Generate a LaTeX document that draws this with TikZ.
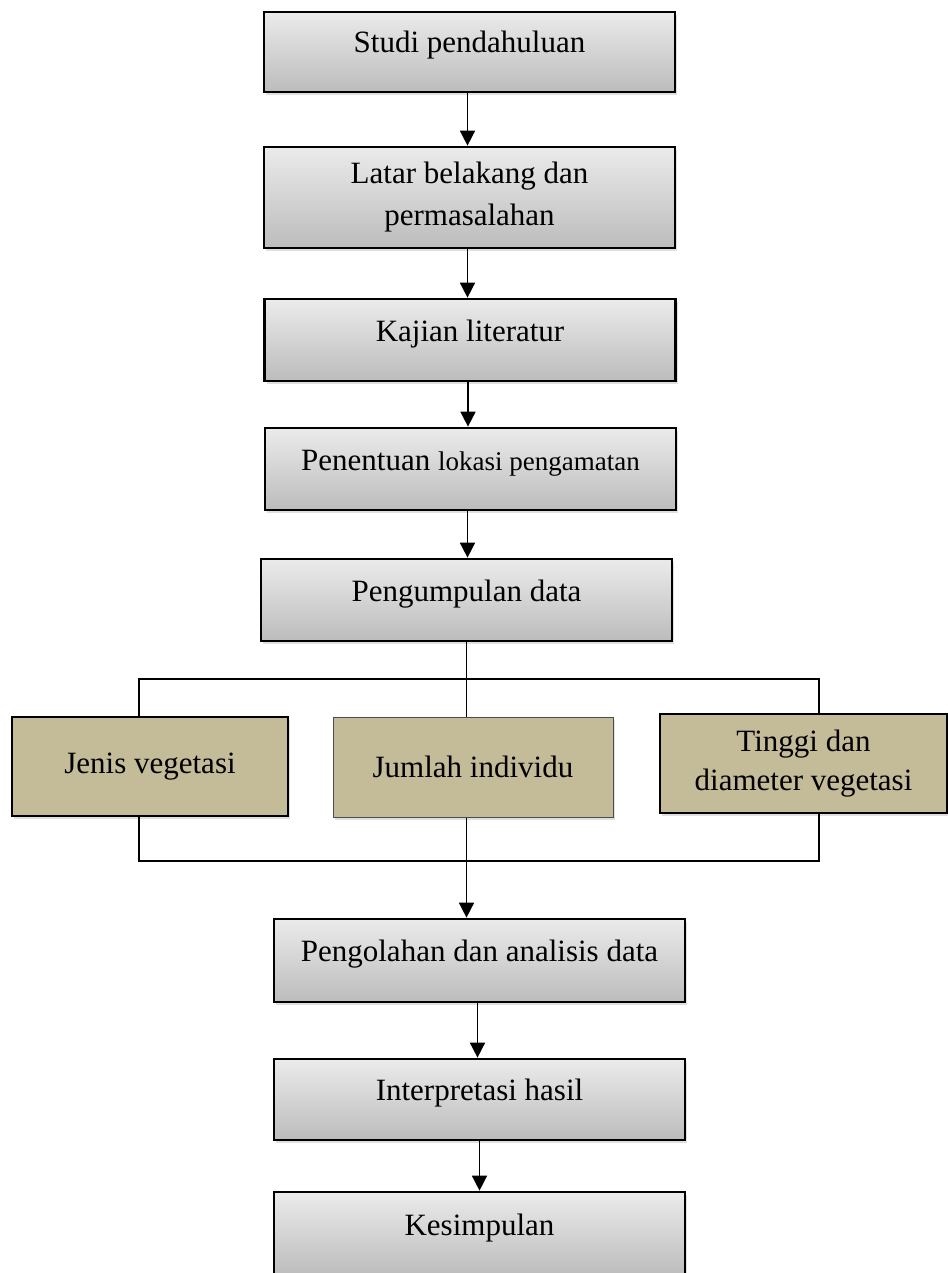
\documentclass[tikz,border=0pt]{standalone}
\usepackage{fontspec}
\setmainfont{Liberation Serif}
\usetikzlibrary{arrows.meta,shadows}
\definecolor{tanfill}{HTML}{C4BB98}
\definecolor{graytop}{HTML}{EBEBEB}
\definecolor{graybot}{HTML}{BCBCBC}
\begin{document}
\begin{tikzpicture}[x=1pt,y=-1pt,
  every node/.style={font=\fontsize{31}{42}\selectfont, inner sep=0pt, align=center},
  graybox/.style={draw=black, line width=2.7pt, top color=graytop, bottom color=graybot,
    drop shadow={shadow xshift=2pt, shadow yshift=-3pt, opacity=0.25},
    minimum width=411pt},
  raised/.style={text height=14pt, text depth=12pt},
  tanbox/.style={draw=black, line width=2.7pt, fill=tanfill,
    drop shadow={shadow xshift=2pt, shadow yshift=-3pt, opacity=0.25}},
  conn/.style={line width=1.6pt, draw=black},
  arr/.style={conn, -{Triangle[width=15pt,length=15pt]}}
]
\useasboundingbox (0,0) rectangle (947,1273);

\node[graybox, raised, minimum height=80pt] (b1) at (469.5,52) {Studi pendahuluan};
\node[graybox, minimum height=101pt] (b2) at (469.5,197.5) {Latar belakang dan\\permasalahan};
\node[graybox, raised, minimum height=82pt] (b3) at (470,340) {Kajian literatur};
\node[graybox, raised, minimum height=82pt] (b4) at (470.5,469) {Penentuan {\fontsize{27}{32}\selectfont lokasi pengamatan}};
\node[graybox, raised, minimum height=82pt] (b5) at (466.5,600) {Pengumpulan data};

\node[tanbox, minimum width=276pt, minimum height=99pt] (jenis) at (150,766.5) {Jenis vegetasi};
\node[draw=black!70, line width=1pt, fill=tanfill,
      drop shadow={shadow xshift=2pt, shadow yshift=-3pt, opacity=0.25},
      minimum width=280pt, minimum height=100pt] (jumlah) at (473,767) {Jumlah individu};
\node[tanbox, minimum width=287pt, minimum height=99pt, font=\fontsize{31}{39}\selectfont] (tinggi) at (803.5,763.5) {Tinggi dan\\diameter vegetasi};

\node[graybox, raised, minimum height=83pt] (b6) at (479.5,960.5) {Pengolahan dan analisis data};
\node[graybox, raised, minimum height=81pt] (b7) at (479.5,1099.5) {Interpretasi hasil};
\node[graybox, raised, minimum height=84pt] (b8) at (479.5,1234) {Kesimpulan};

\coordinate (tl) at (139,679);
\coordinate (tr) at (819,679);
\coordinate (bl) at (139,861);
\coordinate (br) at (819,861);
\coordinate (m) at (466.5,600);

\draw[arr] ([xshift=-2pt]b1.south) -- ([xshift=-2pt]b1.south |- b2.north);
\draw[arr] ([xshift=-2pt]b2.south) -- ([xshift=-2pt]b2.south |- b3.north);
\draw[arr] ([xshift=-2pt]b3.south) -- ([xshift=-2pt]b3.south |- b4.north);
\draw[arr] ([xshift=-3pt]b4.south) -- ([xshift=-3pt]b4.south |- b5.north);

\draw[conn] (b5.south) -- (b5.south |- jumlah.north);
\draw[conn] (tl |- jenis.north) -- (tl) -- (tr) -- (tr |- tinggi.north);
\draw[conn] (bl |- jenis.south) -- (bl) -- (br) -- (br |- tinggi.south);
\draw[arr] (b5.south |- jumlah.south) -- (b5.south |- b6.north);

\draw[arr] ([xshift=-2pt]b6.south) -- ([xshift=-2pt]b6.south |- b7.north);
\draw[arr] (b7.south) -- (b7.south |- b8.north);
\end{tikzpicture}
\end{document}
